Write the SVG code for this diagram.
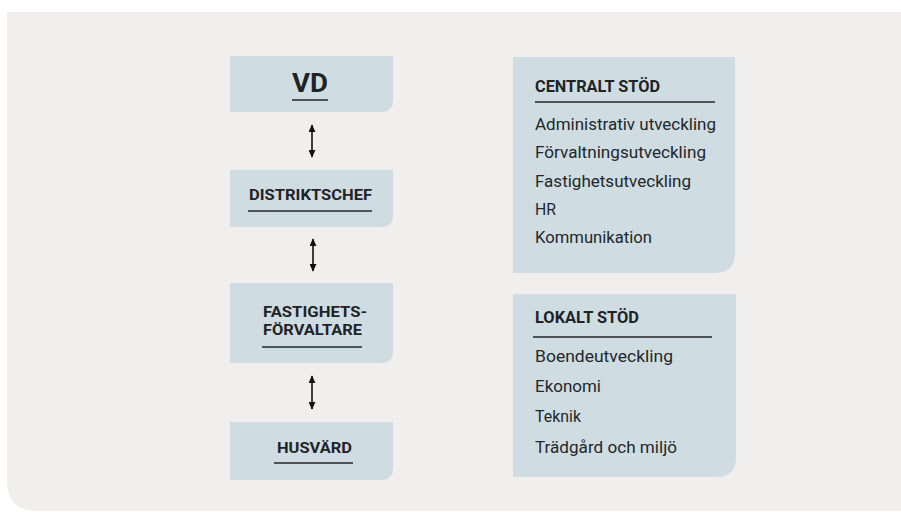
<svg xmlns="http://www.w3.org/2000/svg" width="901" height="512" viewBox="0 0 901 512">
<style>
.box{fill:#cfdde3}
.ttl{font-family:"Roboto","Liberation Sans",sans-serif;font-weight:700;fill:#1f2326}
.itm{font-family:"Roboto","Liberation Sans",sans-serif;font-weight:400;font-size:17px;fill:#23272a}
.ul{stroke:#4e5458;stroke-width:2}
.con{stroke:#111;stroke-width:1.6;fill:none;marker-start:url(#ah);marker-end:url(#ah)}
</style>
<defs>
<marker id="ah" viewBox="0 0 10 10" refX="9" refY="5" markerWidth="8" markerHeight="7" orient="auto-start-reverse" markerUnits="userSpaceOnUse" preserveAspectRatio="none">
<path d="M0,0 L10,5 L0,10 z" fill="#111"/>
</marker>
</defs>
<rect width="901" height="512" fill="#ffffff"/>
<path d="M7,12 H901 V511 H37 Q7,511 7,481 Z" fill="#f0efed"/>

<g id="vd">
<path class="box" d="M230,56 H393 V100 Q393,112 381,112 H230 Z"/>
<text class="ttl" x="310" y="92" font-size="25" text-anchor="middle" textLength="36" lengthAdjust="spacingAndGlyphs">VD</text>
<line class="ul" x1="292" y1="100" x2="328" y2="100"/>
</g>

<g id="distriktschef">
<path class="box" d="M230,170 H393 V215 Q393,227 381,227 H230 Z"/>
<text class="ttl" x="310.5" y="200" font-size="15" text-anchor="middle" textLength="123" lengthAdjust="spacingAndGlyphs">DISTRIKTSCHEF</text>
<line class="ul" x1="248" y1="211" x2="372" y2="211"/>
</g>

<g id="fastighetsforvaltare">
<path class="box" d="M230,283 H393 V351 Q393,363 381,363 H230 Z"/>
<text class="ttl" x="315" y="317" font-size="15" text-anchor="middle" textLength="104" lengthAdjust="spacingAndGlyphs">FASTIGHETS-</text>
<text class="ttl" x="312.5" y="335" font-size="15" text-anchor="middle" textLength="99" lengthAdjust="spacingAndGlyphs">FÖRVALTARE</text>
<line class="ul" x1="262" y1="347" x2="362" y2="347"/>
</g>

<g id="husvard">
<path class="box" d="M230,422 H393 V468 Q393,480 381,480 H230 Z"/>
<text class="ttl" x="314.5" y="453" font-size="15" text-anchor="middle" textLength="75" lengthAdjust="spacingAndGlyphs">HUSVÄRD</text>
<line class="ul" x1="274" y1="463" x2="353" y2="463"/>
</g>

<g id="centralt-stod">
<path class="box" d="M513,57 H735 V253 Q735,273 715,273 H513 Z"/>
<text class="ttl" x="535" y="92" font-size="17" textLength="125" lengthAdjust="spacingAndGlyphs">CENTRALT STÖD</text>
<line class="ul" x1="535" y1="102" x2="715" y2="102"/>
<text class="itm" x="535" y="130" textLength="181" lengthAdjust="spacingAndGlyphs">Administrativ utveckling</text>
<text class="itm" x="535" y="158" textLength="171" lengthAdjust="spacingAndGlyphs">Förvaltningsutveckling</text>
<text class="itm" x="535" y="187" textLength="156" lengthAdjust="spacingAndGlyphs">Fastighetsutveckling</text>
<text class="itm" x="535" y="215" textLength="21" lengthAdjust="spacingAndGlyphs">HR</text>
<text class="itm" x="535" y="243" textLength="117" lengthAdjust="spacingAndGlyphs">Kommunikation</text>
</g>

<g id="lokalt-stod">
<path class="box" d="M513,294 H736 V457 Q736,477 716,477 H513 Z"/>
<text class="ttl" x="535" y="323" font-size="17" textLength="104" lengthAdjust="spacingAndGlyphs">LOKALT STÖD</text>
<line class="ul" x1="533" y1="337" x2="712" y2="337"/>
<text class="itm" x="535" y="362" textLength="138" lengthAdjust="spacingAndGlyphs">Boendeutveckling</text>
<text class="itm" x="535" y="392" textLength="66" lengthAdjust="spacingAndGlyphs">Ekonomi</text>
<text class="itm" x="535" y="422" textLength="46" lengthAdjust="spacingAndGlyphs">Teknik</text>
<text class="itm" x="535" y="453" textLength="142" lengthAdjust="spacingAndGlyphs">Trädgård och miljö</text>
</g>

<g id="connectors">
<line class="con" x1="312" y1="125" x2="312" y2="157"/>
<line class="con" x1="313" y1="239" x2="313" y2="271"/>
<line class="con" x1="312" y1="376" x2="312" y2="409"/>
</g>
</svg>
